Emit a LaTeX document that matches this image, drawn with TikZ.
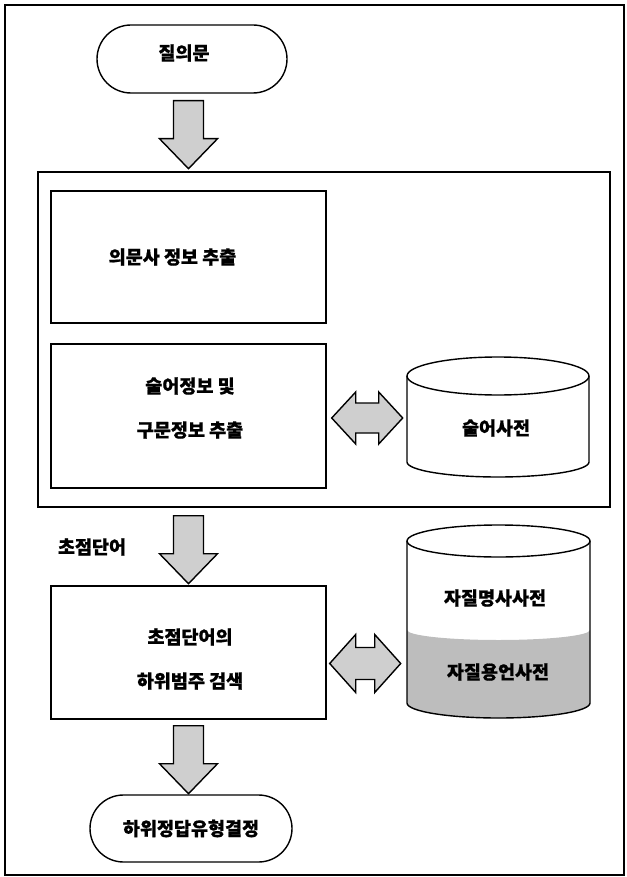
\documentclass[tikz,border=0pt]{standalone}
\usepackage{fontspec}
\setmainfont{Noto Sans CJK KR}[BoldFeatures={FakeBold=0.8}]
\usetikzlibrary{shapes.misc,calc}
\tikzset{
  ln/.style={line width=1.4pt},
  box/.style={draw, ln, rectangle, inner sep=0pt},
  term/.style={draw, ln, rounded rectangle, inner sep=0pt},
  txt/.style={inner sep=0pt, align=center},
  two/.style={txt, font=\fontsize{18.5}{44}\selectfont\bfseries},
  blk/.style={draw, ln, fill=gray!38, line join=miter},
  downarr/.pic={\draw[blk] (-15,0) -- (15,0) -- (15,38) -- (29,38) -- (0,68) -- (-29,38) -- (-15,38) -- cycle;},
  dblarr/.pic={\draw[blk] (0,0) -- (24,-26) -- (24,-15) -- (47,-15) -- (47,-26) -- (71,0) -- (47,26) -- (47,15) -- (24,15) -- (24,26) -- cycle;},
  dblarrb/.pic={\draw[blk] (0,0) -- (26,-29) -- (26,-16) -- (45,-16) -- (45,-29) -- (71,0) -- (45,29) -- (45,16) -- (26,16) -- (26,29) -- cycle;}
}
\begin{document}
\begin{tikzpicture}[x=1pt,y=-1pt,font=\fontsize{18.5}{22}\selectfont\bfseries]
\useasboundingbox (0,0) rectangle (626,877);
\draw[line width=1.5pt] (5,5) rectangle (624,875);

% terminals and boxes
\node[term, minimum width=190, minimum height=68] (start) at (192,59) {};
\node[txt] (starttxt) at ($(start)+(-8,-6)$) {질의문};

\node[box, minimum width=572, minimum height=335] (big) at (324,339.5) {};

\node[box, minimum width=275, minimum height=132] (box1) at (188.5,257) {};
\node[txt] (box1txt) at ($(box1)+(-16,0)$) {의문사 정보 추출};

\node[box, minimum width=275, minimum height=144] (box2) at (188.5,416) {};
\node[two] (box2txt) at (190,408) {술어정보 및\\구문정보 추출};

\node[box, minimum width=275, minimum height=133] (box3) at (188.5,652.5) {};
\node[two] (box3txt) at (190,659) {초점단어의\\하위범주 검색};

\node[term, minimum width=202, minimum height=67] (end) at (191,828.5) {};
\node[txt] (endtxt) at (end) {하위정답유형결정};

% cylinder 1
\draw[ln] (407,376) -- (407,462) arc[start angle=180,end angle=360,x radius=91pt,y radius=15pt] -- (589,376);
\draw[ln] (498,376) ellipse[x radius=91pt, y radius=19pt];
\node[txt, minimum width=182, minimum height=86] (dict1) at (498,419) {};
\node[txt] (dict1txt) at (496,428) {술어사전};

% cylinder 2
\fill[gray!52] (407,630) arc[start angle=180,end angle=360,x radius=91.5pt,y radius=10pt] -- (590,703) arc[start angle=0,end angle=-180,x radius=91.5pt,y radius=15pt] -- cycle;
\draw[ln] (407,541) -- (407,703) arc[start angle=180,end angle=360,x radius=91.5pt,y radius=15pt] -- (590,541);
\draw[ln] (498.5,541) ellipse[x radius=91.5pt, y radius=16pt];
\node[txt, minimum width=183, minimum height=162] (dict2) at (498.5,622) {};
\node[txt] (dict2a) at (495,598) {자질명사사전};
\node[txt] (dict2b) at (498,672) {자질용언사전};

% arrows
\path (start.south -| box1.center) ++(0,7) pic {downarr};
\path (big.south -| box1.center) ++(0,8) pic {downarr};
\path (box3.south) ++(0,6) pic {downarr};
\path (box2.east) ++(5,2) pic {dblarr};
\path (box3.east) ++(3,11) pic {dblarrb};

\node[txt] (focus) at (92,547) {초점단어};
\end{tikzpicture}
\end{document}
